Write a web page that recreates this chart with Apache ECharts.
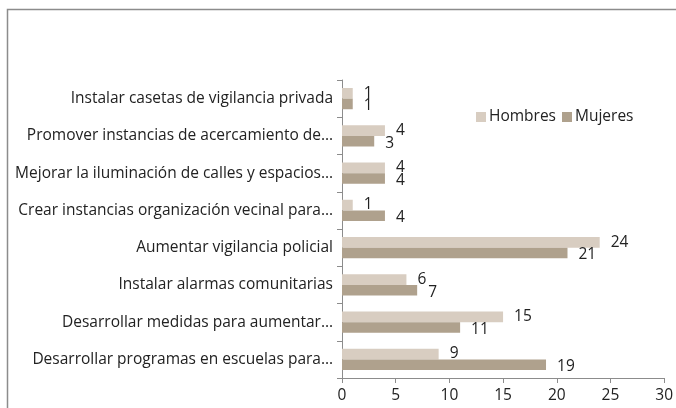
<!DOCTYPE html>
<html>
<head>
<meta charset="utf-8">
<script src="https://cdn.jsdelivr.net/npm/echarts@6/dist/echarts.min.js"></script>
<style>
  html, body { margin: 0; padding: 0; background: #fff; }
  #chart { width: 676px; height: 408px; }
</style>
</head>
<body>
<div id="chart"></div>
<script>
// categories top to bottom as in the picture
const categories = [
  "Instalar casetas de vigilancia privada",
  "Promover instancias de acercamiento de…",
  "Mejorar la iluminación de calles y espacios…",
  "Crear instancias organización vecinal para…",
  "Aumentar vigilancia policial",
  "Instalar alarmas comunitarias",
  "Desarrollar medidas para aumentar…",
  "Desarrollar programas en escuelas para…"
];
const hombres = [1, 4, 4, 1, 24, 6, 15, 9];
const mujeres = [1, 3, 4, 4, 21, 7, 11, 19];
const xTicks = [0, 5, 10, 15, 20, 25, 30];

const font = "'Open Sans', 'Noto Sans', sans-serif";
const chart = echarts.init(document.getElementById("chart"));

const option = {
  animation: false,
  textStyle: { fontFamily: font },
  graphic: [
    {
      type: "rect",
      shape: { x: 7.5, y: 9.5, width: 720, height: 450 },
      style: { fill: "none", stroke: "#8c8c8c", lineWidth: 1.5 }
    }
  ],
  legend: {
    data: ["Hombres", "Mujeres"],
    left: 471,
    top: 104,
    itemWidth: 10,
    itemHeight: 10,
    itemGap: 6,
    textStyle: { fontSize: 15.5, color: "#222", fontFamily: font, padding: [0, 0, 0, -2] },
    icon: "rect"
  },
  grid: { left: 342, right: 9, top: 80, bottom: 30 },
  xAxis: {
    type: "value",
    min: xTicks[0],
    max: xTicks[xTicks.length - 1],
    interval: 5,
    splitLine: { show: false },
    axisLine: { show: true, lineStyle: { color: "#8c8c8c" } },
    axisTick: { show: true, length: 5, lineStyle: { color: "#8c8c8c" } },
    axisLabel: { fontSize: 15.5, color: "#222", margin: 10, fontFamily: font }
  },
  yAxis: {
    type: "category",
    inverse: true,
    data: categories,
    axisLine: { show: true, lineStyle: { color: "#8c8c8c" } },
    axisTick: { show: true, length: 5, lineStyle: { color: "#8c8c8c" } },
    axisLabel: { fontSize: 15.5, color: "#222", margin: 9, fontFamily: font }
  },
  series: [
    {
      name: "Hombres",
      type: "bar",
      data: hombres,
      barGap: "0%",
      barCategoryGap: "43%",
      itemStyle: { color: "#d8cdc1" },
      label: {
        show: true, position: "right", distance: 11, offset: [0, 0],
        fontSize: 15.5, color: "#222", fontFamily: font
      }
    },
    {
      name: "Mujeres",
      type: "bar",
      data: mujeres,
      barGap: "0%",
      barCategoryGap: "43%",
      itemStyle: { color: "#afa18d" },
      label: {
        show: true, position: "right", distance: 11, offset: [0, 2],
        fontSize: 15.5, color: "#222", fontFamily: font
      }
    }
  ]
};
chart.setOption(option);
</script>
</body>
</html>
